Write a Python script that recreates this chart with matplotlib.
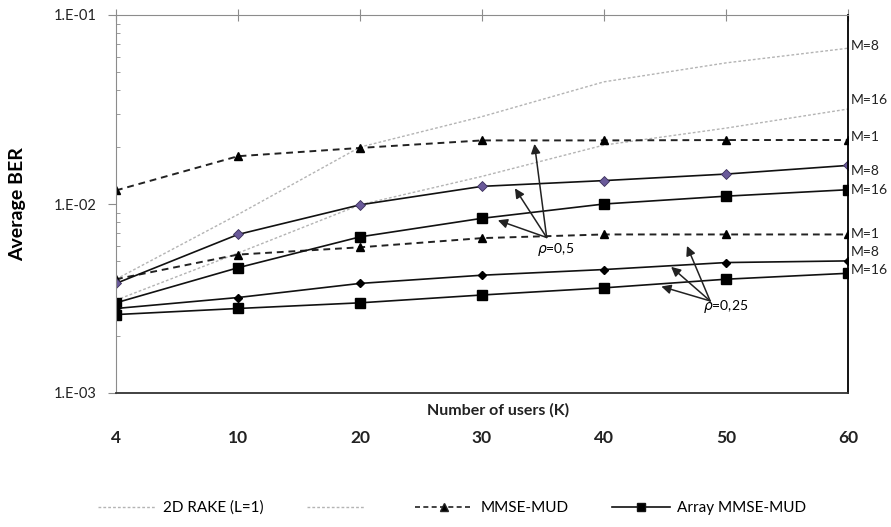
import numpy as np
import matplotlib
matplotlib.use('Agg')
import matplotlib.pyplot as plt
from matplotlib.lines import Line2D

# users (categories) and BER values
users = ['4', '10', '20', '30', '40', '50', '60']
rake_m8 = [0.0040, 0.0088, 0.0200, 0.0290, 0.0443, 0.0558, 0.0667]
rake_m16 = [0.0031, 0.0055, 0.0099, 0.0140, 0.0205, 0.0252, 0.0318]
mmse_rho05 = [0.0118, 0.0179, 0.0198, 0.0217, 0.0217, 0.0218, 0.0218]
mmse_rho025 = [0.0040, 0.0054, 0.0059, 0.0066, 0.0069, 0.0069, 0.0069]
arr_m8_rho05 = [0.0038, 0.0069, 0.0099, 0.0124, 0.0133, 0.0144, 0.0160]
arr_m16_rho05 = [0.0030, 0.0046, 0.0067, 0.0084, 0.0100, 0.0110, 0.0119]
arr_m8_rho025 = [0.0028, 0.0032, 0.0038, 0.0042, 0.0045, 0.0049, 0.0050]
arr_m16_rho025 = [0.0026, 0.0028, 0.0030, 0.0033, 0.0036, 0.0040, 0.0043]
ytick_vals = [1e-3, 1e-2, 1e-1]
ytick_labels = ['1.E-03', '1.E-02', '1.E-01']

FONT = ['Lato', 'DejaVu Sans']

x = np.arange(len(users))
grey = '#b4b4b4'

fig = plt.figure(figsize=(8.91, 5.27), dpi=100)
ax = fig.add_axes([116/891, 1-393/527, (848-116)/891, (393-15)/527])

# 2D RAKE
ax.plot(x, rake_m8, color=grey, lw=1.0, ls=(0, (2, 1.5)))
ax.plot(x, rake_m16, color=grey, lw=1.0, ls=(0, (2, 1.5)))
# MMSE-MUD (M=1)
for s in [mmse_rho05, mmse_rho025]:
    ax.plot(x, s, color='#222222', lw=1.4, ls=(0, (3.5, 2.5)),
            marker='^', ms=6, mfc='black', mec='black')
# Array MMSE-MUD
ax.plot(x, arr_m8_rho05, color='#111111', lw=1.2, marker='D', ms=5,
        mfc='#6a5a9a', mec='#3a2f5a', mew=0.6)
ax.plot(x, arr_m16_rho05, color='#111111', lw=1.2, marker='s', ms=6.5,
        mfc='black', mec='black')
ax.plot(x, arr_m8_rho025, color='#111111', lw=1.2, marker='D', ms=4.5,
        mfc='black', mec='black')
ax.plot(x, arr_m16_rho025, color='#111111', lw=1.2, marker='s', ms=6.5,
        mfc='black', mec='black')

ax.set_yscale('log')
ax.set_ylim(1e-3, 1e-1)
ax.set_xlim(0, len(users) - 1)

# spines
ax.spines['top'].set_color('#8c8c8c')
ax.spines['left'].set_color('#8c8c8c')
ax.spines['bottom'].set_color('#333333')
ax.spines['right'].set_color('black')
ax.spines['bottom'].set_linewidth(1.3)
ax.spines['right'].set_linewidth(1.3)

ax.set_xticks(x)
ax.set_xticklabels(users, family=FONT, fontsize=12.5, fontweight='bold', color='#222222')
ax.tick_params(axis='x', which='major', bottom=False, top=True, labelbottom=True,
               labeltop=False, direction='inout', length=9, color='#8c8c8c', pad=22)
ax.set_yticks(ytick_vals)
ax.set_yticklabels(ytick_labels, family=FONT, fontsize=10.5, color='#222222')
ax.tick_params(axis='y', which='major', direction='out', length=6, color='#8c8c8c', pad=8)
ax.tick_params(axis='y', which='minor', direction='in', length=3, color='#8c8c8c',
               labelleft=False)
ax.yaxis.set_minor_locator(matplotlib.ticker.LogLocator(base=10, subs=np.arange(2, 10)))

ax.set_ylabel('Average BER', family=FONT, fontsize=14, fontweight='bold', labelpad=20)
ax.text(0.522, -0.045, 'Number of users (K)', transform=ax.transAxes, ha='center',
        va='center', family=FONT, fontsize=11.5, fontweight='bold', color='#222222')

# M labels at the right end
last = len(users) - 1
labels = [(rake_m8, 'M=8', 2), (rake_m16, 'M=16', 9), (mmse_rho05, 'M=1', 3),
          (arr_m8_rho05, 'M=8', -6), (arr_m16_rho05, 'M=16', 0),
          (mmse_rho025, 'M=1', 0), (arr_m8_rho025, 'M=8', 9), (arr_m16_rho025, 'M=16', 3)]
for s, t, dy in labels:
    ax.annotate(t, (last, s[last]), xytext=(3, dy), textcoords='offset pixels',
                ha='left', va='center', family=FONT, fontsize=10, color='#222222',
                annotation_clip=False)

# rho annotations
arrow = dict(arrowstyle='-|>', color='#222222', lw=1.1, mutation_scale=14, shrinkA=0, shrinkB=0)
for tip in [(3.43, 0.0208), (3.27, 0.0121), (3.13, 0.0082)]:
    ax.annotate('', xy=tip, xytext=(3.53, 0.00665), arrowprops=arrow)
ax.text(3.45, 0.0064, r'$\rho$=0,5', ha='left', va='top', family=FONT, fontsize=10)
for tip in [(4.68, 0.0060), (4.55, 0.00465), (4.47, 0.00366)]:
    ax.annotate('', xy=tip, xytext=(4.87, 0.00307), arrowprops=arrow)
ax.text(4.81, 0.00318, r'$\rho$=0,25', ha='left', va='top', family=FONT, fontsize=10)

# legend
h_rake = Line2D([], [], color=grey, lw=1.0, ls=(0, (2, 1.5)))
h_mmse = Line2D([], [], color='#222222', lw=1.2, ls=(0, (3, 2)), marker='^', ms=6, mfc='black')
h_arr = Line2D([], [], color='#111111', lw=1.2, marker='s', ms=6, mfc='black')
fig.legend([h_rake, h_rake, h_mmse, h_arr], ['2D RAKE (L=1)', '', 'MMSE-MUD', 'Array MMSE-MUD'],
           loc='center', bbox_to_anchor=(452/891, 1-508/527), ncol=4, frameon=False,
           handlelength=3.8, columnspacing=2.8, handletextpad=0.5,
           prop={'family': FONT, 'size': 11})

fig.savefig('out.png', dpi=100)
